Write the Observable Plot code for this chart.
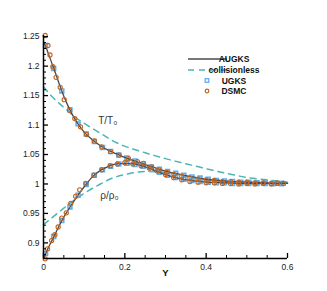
<!DOCTYPE html>
<html><head><meta charset="utf-8">
<script src="https://cdn.jsdelivr.net/npm/d3@7"></script>
<script src="https://cdn.jsdelivr.net/npm/@observablehq/plot@0.6"></script>
<style>body{margin:0;background:#fff;font-family:"Liberation Sans",Arial,sans-serif}</style>
</head><body><div id="chart"></div>
<script>
// AUGKS solid lines
const lineX = [0,0.005,0.01,0.02,0.03,0.04,0.05,0.06,0.07,0.08,0.09,0.1,0.12,0.14,0.16,0.18,0.2,0.22,0.25,0.28,0.3,0.33,0.36,0.4,0.45,0.5,0.55,0.6];
const augksT = [1.242,1.234,1.225,1.206,1.187,1.167,1.149,1.133,1.119,1.107,1.097,1.088,1.075,1.065,1.057,1.051,1.045,1.040,1.033,1.026,1.022,1.017,1.013,1.008,1.005,1.003,1.002,1.001];
const augksRho = [0.873,0.881,0.889,0.903,0.917,0.931,0.944,0.955,0.966,0.976,0.986,0.995,1.012,1.023,1.030,1.034,1.035,1.034,1.029,1.021,1.016,1.010,1.006,1.003,1.002,1.001,1.001,1.001];
// collisionless dashed
const collTX = [0,0.02,0.04,0.06,0.08,0.1,0.14,0.18,0.25,0.3,0.37,0.45,0.5,0.55,0.6];
const collT = [1.165,1.149,1.136,1.124,1.112,1.103,1.086,1.070,1.053,1.043,1.031,1.018,1.011,1.007,1.003];
const collRhoX = [0,0.025,0.05,0.075,0.1,0.14,0.17,0.2,0.25,0.3,0.35,0.4,0.45,0.5,0.6];
const collRho = [0.931,0.945,0.959,0.972,0.984,1.000,1.010,1.016,1.021,1.020,1.013,1.007,1.004,1.002,1.001];
// UGKS squares
const ugksX = [0.005,0.025,0.045,0.065,0.085,0.105,0.125,0.145,0.165,0.185,0.205,0.225,0.245,0.265,0.285,0.305,0.325,0.345,0.365,0.385,0.405,0.425,0.445,0.465,0.485,0.505,0.525,0.545,0.565,0.585];
const ugksT = [1.235,1.196,1.158,1.126,1.102,1.085,1.072,1.062,1.055,1.049,1.044,1.039,1.034,1.029,1.025,1.021,1.018,1.015,1.012,1.010,1.008,1.006,1.005,1.004,1.003,1.003,1.002,1.002,1.001,1.001];
const ugksRho = [0.882,0.911,0.938,0.961,0.981,0.999,1.015,1.024,1.030,1.034,1.035,1.033,1.030,1.025,1.020,1.015,1.011,1.008,1.006,1.004,1.003,1.002,1.002,1.001,1.001,1.001,1.001,1.001,1.001,1.001];
// DSMC circles
const dsmcTX = [0.004,0.011,0.016,0.023,0.031,0.041,0.051,0.064,0.077,0.091,0.106,0.125,0.143,0.165,0.186,0.209,0.231,0.246,0.266,0.284,0.303,0.321,0.34,0.36,0.38,0.40,0.42,0.44,0.46,0.48,0.50,0.52,0.54,0.56,0.575,0.59];
const dsmcT = [1.252,1.235,1.219,1.199,1.181,1.164,1.143,1.125,1.111,1.097,1.084,1.073,1.063,1.055,1.049,1.043,1.038,1.035,1.029,1.024,1.020,1.016,1.013,1.010,1.008,1.007,1.006,1.004,1.004,1.003,1.003,1.002,1.002,1.001,1.002,1.001];
const dsmcRhoX = [0.004,0.01,0.02,0.028,0.036,0.045,0.056,0.067,0.079,0.089,0.104,0.124,0.143,0.164,0.182,0.2,0.22,0.24,0.26,0.28,0.3,0.32,0.34,0.36,0.38,0.40,0.42,0.44,0.46,0.48,0.5,0.52,0.54,0.56,0.575,0.59];
const dsmcRho = [0.873,0.890,0.904,0.914,0.927,0.942,0.951,0.967,0.979,0.990,1.001,1.015,1.024,1.031,1.034,1.036,1.034,1.031,1.027,1.022,1.016,1.011,1.007,1.004,1.003,1.002,1.002,1.001,1.001,1.000,1.001,1.000,1.001,1.000,1.001,1.001];
// axes
const xMajor = [0,0.2,0.4,0.6];
const xLabels = ["0","0.2","0.4","0.6"];
const xMinor = [0.05,0.1,0.15,0.25,0.3,0.35,0.45,0.5,0.55];
const yMajor = [0.9,0.95,1,1.05,1.1,1.15,1.2,1.25];
const yLabels = ["0.9","0.95","1","1.05","1.1","1.15","1.2","1.25"];
const yMinor = d3.range(88,125).map(d=>d/100).filter(v=>!yMajor.some(m=>Math.abs(m-v)<1e-9));
const yDomain = [0.8735,1.252];
const legendItems = ["AUGKS","collisionless","UGKS","DSMC"];

const zip = (xs, ys) => xs.map((x,i)=>({x, y: ys[i]}));
const cLine = "#4a4a4a", cDash = "#4db5b3", cSq = "#62adf0", cCirc = "#c2651f";

function legend(index, scales, values, dims) {
  const g = d3.create("svg:g").attr("font-family","Liberation Sans, Arial, sans-serif");
  const ys = [59, 70, 80.5, 91];
  legendItems.forEach((t,i)=>{
    const y = ys[i];
    if (i===0) g.append("line").attr("x1",188).attr("x2",227).attr("y1",y).attr("y2",y).attr("stroke",cLine).attr("stroke-width",1.3);
    if (i===1) g.append("line").attr("x1",188).attr("x2",227).attr("y1",y).attr("y2",y).attr("stroke",cDash).attr("stroke-width",1.5).attr("stroke-dasharray","6,5");
    if (i===2) g.append("rect").attr("x",205.2).attr("y",y-1.8).attr("width",3.6).attr("height",3.6).attr("fill","none").attr("stroke",cSq).attr("stroke-width",1.3);
    if (i===3) g.append("circle").attr("cx",207).attr("cy",y).attr("r",1.8).attr("fill","none").attr("stroke",cCirc).attr("stroke-width",1.2);
    g.append("text").attr("x",234).attr("y",y+3).attr("font-size",8.5).attr("font-weight","bold").attr("fill","#111").text(t);
  });
  return g.node();
}

// tick lengths expressed through the scales (px -> data units)
const pxY = (yDomain[1]-yDomain[0])/(291-35-33);
const pxX = 0.6/(327-43-40);

const chart = Plot.plot({
  width: 327, height: 291,
  marginLeft: 43, marginRight: 40, marginTop: 35, marginBottom: 33,
  style: {fontFamily: "Liberation Sans, Arial, sans-serif", background: "#fff"},
  x: {domain: [0,0.6]},
  y: {domain: yDomain},
  marks: [
    Plot.line(zip(collTX, collT), {x:"x", y:"y", stroke: cDash, strokeWidth: 1.5, strokeDasharray: "6,5", curve: "monotone-x"}),
    Plot.line(zip(collRhoX, collRho), {x:"x", y:"y", stroke: cDash, strokeWidth: 1.5, strokeDasharray: "6,5", curve: "monotone-x"}),
    Plot.dot(zip(ugksX, ugksT), {x:"x", y:"y", symbol:"square", r: 2.2, stroke: cSq, strokeWidth: 1.6}),
    Plot.dot(zip(ugksX, ugksRho), {x:"x", y:"y", symbol:"square", r: 2.2, stroke: cSq, strokeWidth: 1.6}),
    Plot.line(zip(lineX, augksT), {x:"x", y:"y", stroke: cLine, strokeWidth: 1.3, curve: "monotone-x"}),
    Plot.line(zip(lineX, augksRho), {x:"x", y:"y", stroke: cLine, strokeWidth: 1.3, curve: "monotone-x"}),
    Plot.dot(zip(dsmcTX, dsmcT), {x:"x", y:"y", r: 2.1, stroke: cCirc, strokeWidth: 1.1}),
    Plot.dot(zip(dsmcRhoX, dsmcRho), {x:"x", y:"y", r: 2.1, stroke: cCirc, strokeWidth: 1.1}),
    Plot.text([{x:0.158, y:1.108, t:"T/T\u2080"}], {x:"x", y:"y", text:"t", fontSize: 10, fill:"#333"}),
    Plot.text([{x:0.162, y:0.980, t:"\u03c1/\u03c1\u2080"}], {x:"x", y:"y", text:"t", fontSize: 10, fill:"#333"}),
    Plot.axisX(xMajor, {tickSize: 0, tickPadding: 5, tickFormat: (d,i)=>xLabels[i], fontSize: 8.5, label: null, color:"#222"}),
    Plot.axisY(yMajor, {tickSize: 0, tickPadding: 4, tickFormat: (d,i)=>yLabels[i], fontSize: 8.5, label: null, color:"#222"}),
    Plot.ruleX(xMajor, {x: d=>d, y1: yDomain[0], y2: yDomain[0]+5*pxY, stroke:"#000", strokeWidth: 1.3}),
    Plot.ruleX(xMinor, {x: d=>d, y1: yDomain[0], y2: yDomain[0]+3*pxY, stroke:"#000", strokeWidth: 1}),
    Plot.ruleY(yMajor, {y: d=>d, x1: 0, x2: 5*pxX, stroke:"#000", strokeWidth: 1.3}),
    Plot.ruleY(yMinor, {y: d=>d, x1: 0, x2: 3*pxX, stroke:"#000", strokeWidth: 1}),
    Plot.ruleY([yDomain[0]], {stroke:"#000", strokeWidth: 1.5}),
    Plot.ruleX([0], {stroke:"#000", strokeWidth: 1.5}),
    Plot.text(["Y"], {x: 0.3, frameAnchor: "bottom", dy: 17, text: d=>d, fontSize: 9.5, fontWeight: "bold", fill:"#111"}),
    legend
  ]
});
document.getElementById("chart").appendChild(chart);
</script></body></html>
